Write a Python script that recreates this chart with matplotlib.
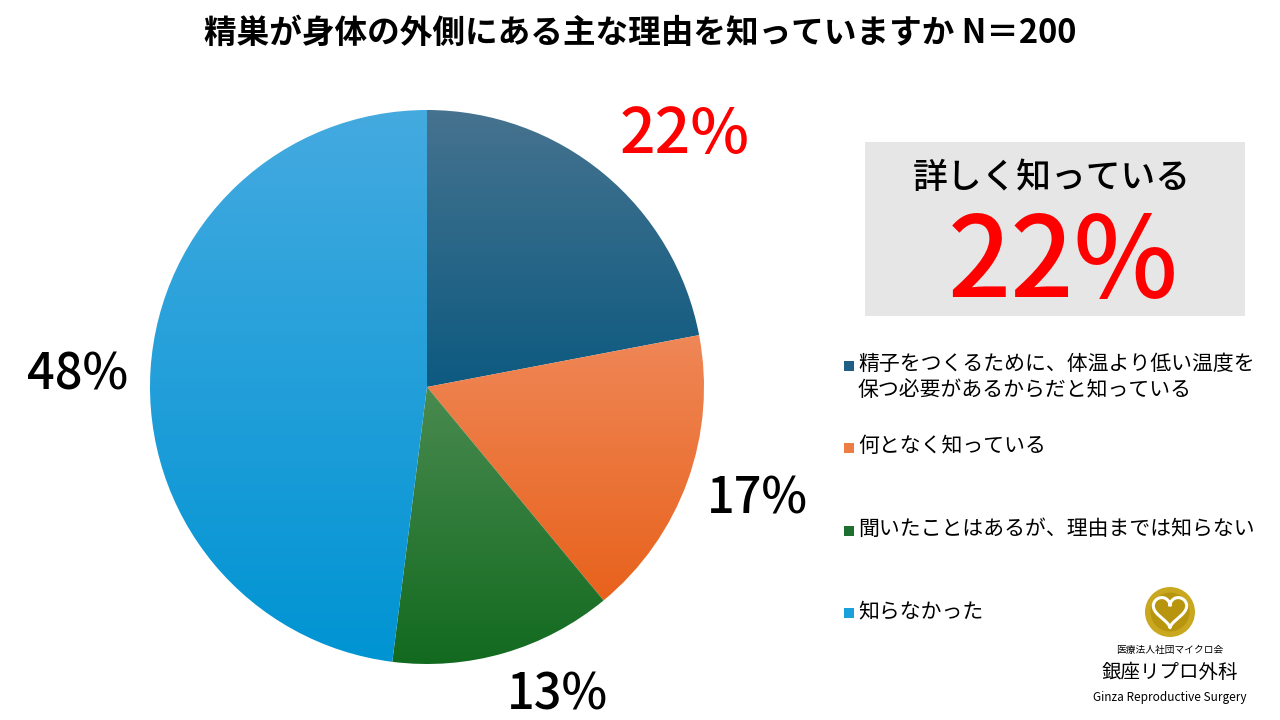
import numpy as np
import matplotlib
matplotlib.use('Agg')
import matplotlib.pyplot as plt
import matplotlib.patches as patches
from matplotlib.colors import LinearSegmentedColormap

plt.rcParams['font.family'] = ['Noto Sans CJK JP', 'DejaVu Sans']

TITLE = '精巣が身体の外側にある主な理由を知っていますか N＝200'
labels = [
    '精子をつくるために、体温より低い温度を\n保つ必要があるからだと知っている',
    '何となく知っている',
    '聞いたことはあるが、理由までは知らない',
    '知らなかった',
]
values = [22, 17, 13, 48]
pct_labels = ['22%', '17%', '13%', '48%']
pct_colors = ['#ff0000', '#000000', '#000000', '#000000']
# (top colour, bottom colour) of each wedge's gradient
grad_colors = [
    ('#46738f', '#0d5a80'),
    ('#ef8757', '#e8621c'),
    ('#4a8a50', '#126a1f'),
    ('#44aae0', '#0094d3'),
]
legend_colors = ['#1f5f86', '#ed7d45', '#1f7030', '#1aa0da']

fig = plt.figure(figsize=(12.8, 7.2), dpi=100)
fig.patch.set_facecolor('white')

# pie area in pixels: centre (427, 387), radius 277
ax = fig.add_axes([150 / 1280, (720 - 664) / 720, 554 / 1280, 554 / 720])
ax.set_xlim(-1, 1)
ax.set_ylim(-1, 1)
ax.set_aspect('equal')
ax.axis('off')

wedges, _ = ax.pie(values, startangle=90, counterclock=False, radius=1.0,
                   wedgeprops=dict(linewidth=0))
for w, (c_top, c_bot) in zip(wedges, grad_colors):
    w.set_facecolor('none')
    bb = w.get_path().get_extents(w.get_patch_transform())
    cmap = LinearSegmentedColormap.from_list('g', [c_bot, c_top])
    grad = np.linspace(0, 1, 256).reshape(-1, 1)
    im = ax.imshow(grad, cmap=cmap, origin='lower', aspect='auto',
                   extent=[bb.x0, bb.x1, bb.y0, bb.y1], zorder=1)
    im.set_clip_path(w)
ax.set_xlim(-1, 1)
ax.set_ylim(-1, 1)

# percentage labels around the pie (figure pixel positions)
label_pos = [(685, 136), (757, 500), (557, 695), (78, 375)]
label_size = [45, 35, 35, 35]
for (x, y), txt, col, fs in zip(label_pos, pct_labels, pct_colors, label_size):
    fig.text(x / 1280, 1 - y / 720, txt, color=col, fontsize=fs,
             fontweight='medium', ha='center', va='center')

fig.text(640 / 1280, 1 - 33 / 720, TITLE, fontsize=23.5, fontweight='bold',
         ha='center', va='center')

# highlight box
box = patches.Rectangle((865 / 1280, 1 - 316 / 720), 380 / 1280, 174 / 720,
                        transform=fig.transFigure, facecolor='#e6e6e6',
                        edgecolor='none')
fig.add_artist(box)
fig.text(1052 / 1280, 1 - 178 / 720, '詳しく知っている', fontsize=25,
         fontweight='medium', ha='center', va='center')
fig.text(1063 / 1280, 1 - 265 / 720, pct_labels[0], fontsize=80,
         fontweight='medium', color='#ff0000', ha='center', va='center')

# legend
leg_y = [366, 448, 531, 613]
for y, lab, col in zip(leg_y, labels, legend_colors):
    sq = patches.Rectangle((844 / 1280, 1 - (y + 5) / 720), 10 / 1280, 10 / 720,
                           transform=fig.transFigure, facecolor=col,
                           edgecolor='none')
    fig.add_artist(sq)
    fig.text(858 / 1280, 1 - (y - 13) / 720, lab, fontsize=15,
             ha='left', va='top', linespacing=1.25)

# logo
lax = fig.add_axes([1145 / 1280, 1 - 637 / 720, 50 / 1280, 50 / 720])
lax.set_xlim(-1, 1)
lax.set_ylim(-1, 1)
lax.set_aspect('equal')
lax.axis('off')
lax.add_patch(patches.Circle((0, 0), 1.0, facecolor='#c9a820', edgecolor='none'))
lax.add_patch(patches.Circle((0, 0), 0.78, facecolor='#b8950f', edgecolor='none'))
t = np.linspace(0, 2 * np.pi, 200)
hx = 16 * np.sin(t) ** 3 / 24
hy = (13 * np.cos(t) - 5 * np.cos(2 * t) - 2 * np.cos(3 * t) - np.cos(4 * t)) / 24 + 0.08
lax.plot(hx, hy, color='white', lw=2.2)
fig.text(1170 / 1280, 1 - 650 / 720, '医療法人社団マイクロ会', fontsize=7,
         ha='center', va='center')
fig.text(1170 / 1280, 1 - 672 / 720, '銀座リプロ外科', fontsize=14,
         ha='center', va='center')
fig.text(1170 / 1280, 1 - 697 / 720, 'Ginza Reproductive Surgery', fontsize=8.5,
         ha='center', va='center')

fig.savefig('out.png', dpi=100)
